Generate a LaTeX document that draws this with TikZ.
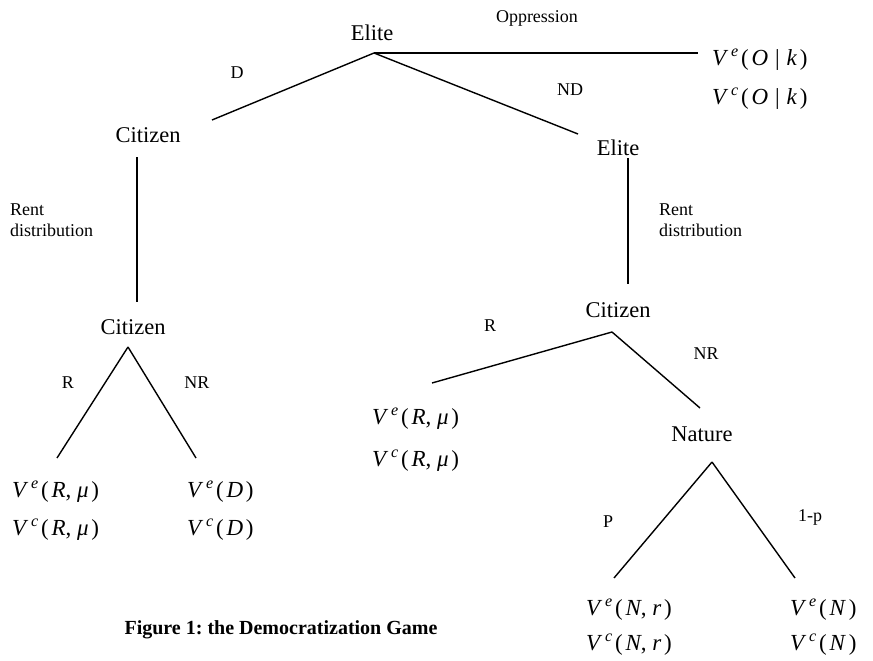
\documentclass[tikz,border=0pt]{standalone}
\usepackage{fontspec}
\setmainfont{Liberation Serif}
\frenchspacing
\newcommand\Vpay[2]{\textit{V}\hspace{0.12em}\textsuperscript{\textit{#1}}\hspace{0.1em}(\hspace{0.12em}#2\hspace{0.12em})}
\tikzset{
  player/.style={font=\fontsize{22.5}{26}\selectfont, inner sep=0pt},
  act/.style={font=\fontsize{18}{21}\selectfont, inner sep=0pt},
  pay/.style={font=\fontsize{23}{27}\selectfont, anchor=west, inner sep=0pt},
  branch/.style={line width=1.4pt},
}
\begin{document}
\begin{tikzpicture}[x=1pt,y=-1pt]
\useasboundingbox (0,0) rectangle (873,661);
% players
\node[player] (eliteA) at (372,33) {Elite};
\node[player] (citA) at (148,135) {Citizen};
\node[player] (citB) at (133,327) {Citizen};
\node[player] (eliteB) at (618,148) {Elite};
\node[player] (citC) at (618,310) {Citizen};
\node[player] (nature) at (702,434) {Nature};
% branch end / start points
\coordinate (tA) at (374,53);
\coordinate (oppEnd) at (698,53);
\coordinate (dEnd) at (212,120);
\coordinate (ndEnd) at (578,134);
\coordinate (rlTop) at (137,157);
\coordinate (rlBot) at (137,302);
\coordinate (tB) at (128,347);
\coordinate (bRl) at (57,458);
\coordinate (bNRl) at (196,458);
\coordinate (rrTop) at (628,158);
\coordinate (rrBot) at (628,284);
\coordinate (tC) at (612,332);
\coordinate (cR) at (432,383);
\coordinate (cNR) at (700,408);
\coordinate (tN) at (712,462);
\coordinate (nP) at (614,578);
\coordinate (nQ) at (795,578);
% branches
\draw[branch] (tA) -- (oppEnd);
\draw[branch] (tA) -- (dEnd);
\draw[branch] (tA) -- (ndEnd);
\draw[branch] (rlTop) -- (rlBot);
\draw[branch] (tB) -- (bRl);
\draw[branch] (tB) -- (bNRl);
\draw[branch] (rrTop) -- (rrBot);
\draw[branch] (tC) -- (cR);
\draw[branch] (tC) -- (cNR);
\draw[branch] (tN) -- (nP);
\draw[branch] (tN) -- (nQ);
% action labels
\node[act] (lOpp) at (537,18) {Oppression};
\node[act] (lD) at (237,73) {D};
\node[act] (lND) at (570,90) {ND};
\node[act, anchor=west, align=left] (lRentL) at (10,220) {Rent\\distribution};
\node[act, anchor=west, align=left] (lRentR) at (659,220) {Rent\\distribution};
\node[act] (lR1) at (68,383) {R};
\node[act] (lNR1) at (197,383) {NR};
\node[act] (lR2) at (490,326) {R};
\node[act] (lNR2) at (706,354) {NR};
\node[act] (lP) at (608,522) {P};
\node[act] (lQ) at (810,517) {1-p};
% payoffs
\node[pay] (pOe) at (712,60) {\Vpay{e}{\textit{O}\hspace{0.3em}|\hspace{0.3em}\textit{k}}};
\node[pay] (pOc) at (712,99) {\Vpay{c}{\textit{O}\hspace{0.3em}|\hspace{0.3em}\textit{k}}};
\node[pay] (pR1e) at (12,492) {\Vpay{e}{\textit{R}, \textit{μ}}};
\node[pay] (pR1c) at (12,530) {\Vpay{c}{\textit{R}, \textit{μ}}};
\node[pay] (pDe) at (187,492) {\Vpay{e}{\textit{D}}};
\node[pay] (pDc) at (187,530) {\Vpay{c}{\textit{D}}};
\node[pay] (pR2e) at (372,419) {\Vpay{e}{\textit{R}, \textit{μ}}};
\node[pay] (pR2c) at (372,461) {\Vpay{c}{\textit{R}, \textit{μ}}};
\node[pay] (pNre) at (586,610) {\Vpay{e}{\textit{N}, \textit{r}}};
\node[pay] (pNrc) at (586,645) {\Vpay{c}{\textit{N}, \textit{r}}};
\node[pay] (pNe) at (790,610) {\Vpay{e}{\textit{N}}};
\node[pay] (pNc) at (790,645) {\Vpay{c}{\textit{N}}};
% caption
\node[font=\fontsize{20}{24}\selectfont\bfseries, inner sep=0pt] (title) at (281,630) {Figure 1: the Democratization Game};
\end{tikzpicture}
\end{document}
